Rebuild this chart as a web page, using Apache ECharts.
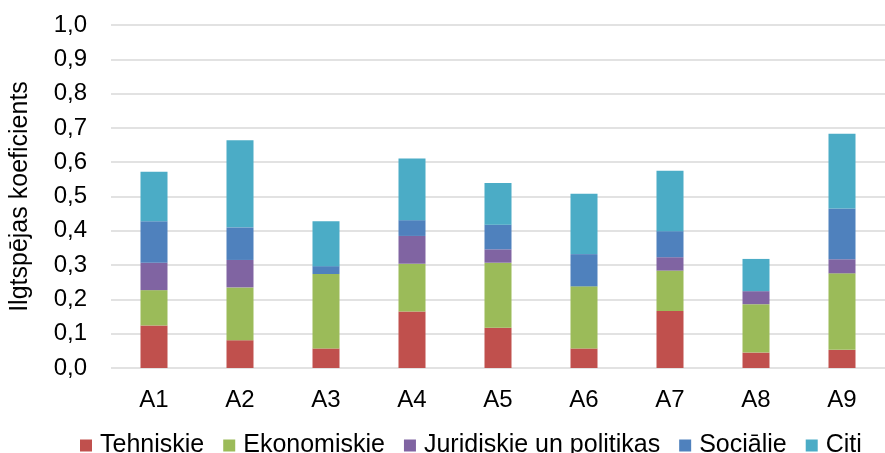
<!DOCTYPE html>
<html>
<head>
<meta charset="utf-8">
<script src="https://cdn.jsdelivr.net/npm/echarts@6/dist/echarts.min.js"></script>
<style>
  html, body { margin: 0; padding: 0; background: #fff; }
  #chart { width: 885px; height: 453px; }
</style>
</head>
<body>
<div id="chart"></div>
<script>
const categories = ['A1', 'A2', 'A3', 'A4', 'A5', 'A6', 'A7', 'A8', 'A9'];

const tehniskie   = [0.124, 0.081, 0.057, 0.165, 0.117, 0.057, 0.166, 0.045, 0.053];
const ekonomiskie = [0.103, 0.154, 0.217, 0.139, 0.190, 0.181, 0.118, 0.141, 0.223];
const juridiskie  = [0.080, 0.080, 0.000, 0.081, 0.039, 0.000, 0.039, 0.038, 0.041];
const socialie    = [0.121, 0.095, 0.023, 0.046, 0.072, 0.094, 0.076, 0.000, 0.148];
const citi        = [0.144, 0.254, 0.131, 0.180, 0.121, 0.176, 0.176, 0.094, 0.218];

const FONT = '"Liberation Sans", Arial, sans-serif';

const seriesDefs = [
    { name: 'Tehniskie', data: tehniskie, color: '#C0504D' },
    { name: 'Ekonomiskie', data: ekonomiskie, color: '#9BBB59' },
    { name: 'Juridiskie un politikas', data: juridiskie, color: '#8064A2' },
    { name: 'Sociālie', data: socialie, color: '#4F81BD' },
    { name: 'Citi', data: citi, color: '#4BACC6' },
];

const chart = echarts.init(document.getElementById('chart'));

chart.setOption({
    animation: false,
    textStyle: { fontFamily: FONT },
    grid: { left: 107, top: 25, width: 792, height: 343 },
    legend: {
        left: 75,
        top: 428,
        itemWidth: 12,
        itemHeight: 12,
        itemGap: 19,
        icon: 'rect',
        textStyle: { fontFamily: FONT, fontSize: 25, color: '#000', padding: [0, 0, 0, 3] },
        data: seriesDefs.map(s => s.name),
    },
    xAxis: {
        type: 'category',
        data: categories,
        axisLine: { show: false },
        axisTick: { show: false },
        axisLabel: { fontFamily: FONT, fontSize: 24, color: '#000', margin: 20 },
    },
    yAxis: {
        type: 'value',
        min: 0,
        max: 1,
        interval: 0.1,
        name: 'Ilgtspējas koeficients',
        nameLocation: 'middle',
        nameGap: 78,
        nameRotate: 90,
        nameTextStyle: { fontFamily: FONT, fontSize: 25, color: '#000' },
        axisLine: { show: false },
        axisTick: { show: false },
        axisLabel: {
            fontFamily: FONT, fontSize: 24, color: '#000', margin: 24,
            formatter: v => v.toFixed(1).replace('.', ','),
        },
        splitLine: { lineStyle: { color: '#D9D9D9', width: 1.5 } },
    },
    series: seriesDefs.map(s => ({
        name: s.name,
        type: 'bar',
        stack: 'total',
        barWidth: 27,
        data: s.data,
        itemStyle: { color: s.color },
    })),
});
</script>
</body>
</html>
